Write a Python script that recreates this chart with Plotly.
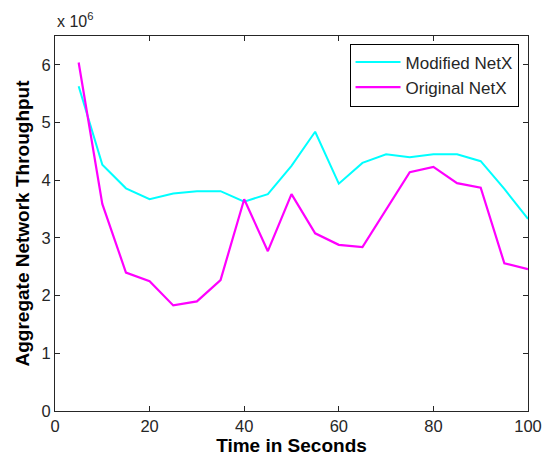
import plotly.graph_objects as go

time_s = [5, 10, 15, 20, 25, 30, 35, 40, 45, 50, 55, 60, 65, 70, 75, 80, 85, 90, 95, 100]
modified_netx = [5.63, 4.27, 3.86, 3.67, 3.77, 3.81, 3.81, 3.63, 3.76, 4.25, 4.84, 3.94, 4.30, 4.45,
                 4.40, 4.45, 4.45, 4.33, 3.85, 3.33]
original_netx = [6.04, 3.59, 2.40, 2.25, 1.83, 1.90, 2.27, 3.67, 2.77, 3.76, 3.08, 2.88, 2.84, 3.49,
                 4.14, 4.23, 3.95, 3.87, 2.56, 2.46]
x_ticks = [0, 20, 40, 60, 80, 100]
y_ticks = [0, 1, 2, 3, 4, 5, 6]

FONT = "Liberation Sans, Arial, sans-serif"
AX = "#262626"

fig = go.Figure()
fig.add_trace(go.Scatter(x=time_s, y=modified_netx, mode="lines", name="Modified NetX",
                         line=dict(color="#00FFFF", width=2)))
fig.add_trace(go.Scatter(x=time_s, y=original_netx, mode="lines", name="Original NetX",
                         line=dict(color="#FF00FF", width=2.2)))

axis_common = dict(showgrid=False, zeroline=False, showline=True, linecolor=AX, linewidth=1,
                   mirror="ticks", ticks="inside", ticklen=5, tickcolor=AX, automargin=False,
                   tickfont=dict(family=FONT, size=16.5, color=AX))

fig.update_layout(
    width=544, height=458,
    margin=dict(l=55, r=16, t=36, b=47, autoexpand=False),
    paper_bgcolor="white", plot_bgcolor="white",
    font=dict(family=FONT, color=AX),
    xaxis=dict(range=[0, 100], tickvals=x_ticks, ticktext=[str(v) for v in x_ticks],
               title=dict(text="<b>Time in Seconds</b>", font=dict(family=FONT, size=19, color="black"),
                          standoff=2),
               **axis_common),
    yaxis=dict(range=[0, 6.5], tickvals=y_ticks, ticktext=[str(v) for v in y_ticks],
               title=dict(text="<b>Aggregate Network Throughput</b>",
                          font=dict(family=FONT, size=19, color="black"), standoff=6),
               **axis_common),
    legend=dict(x=0.98, y=0.98, xanchor="right", yanchor="top", bgcolor="white",
                bordercolor="black", borderwidth=1, font=dict(family=FONT, size=17, color=AX),
                itemwidth=45, tracegroupgap=0),
    showlegend=True,
)

fig.add_annotation(x=0, y=1, xref="paper", yref="paper", xanchor="left", yanchor="bottom",
                   yshift=4, showarrow=False, text="x 10<sup>6</sup>",
                   font=dict(family=FONT, size=16, color=AX))

fig.write_html("out.html")
